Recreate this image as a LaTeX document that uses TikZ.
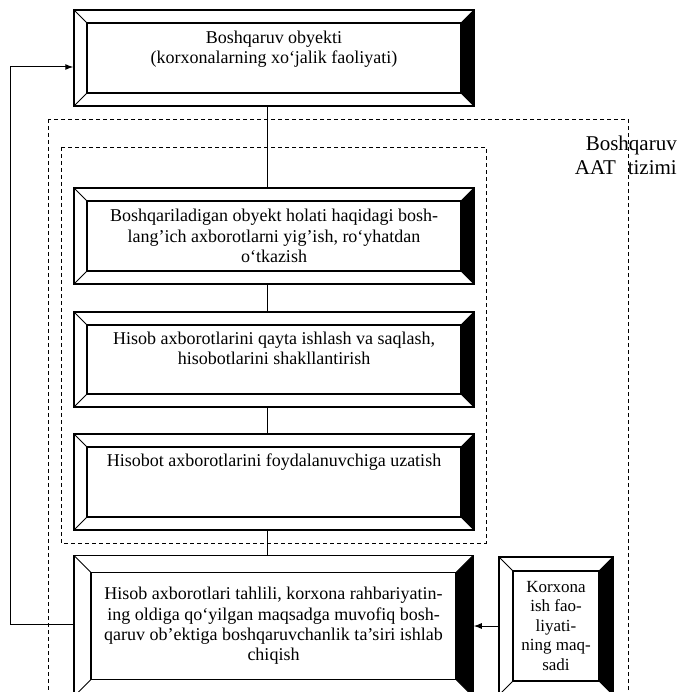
\documentclass[tikz,border=0pt]{standalone}
\usepackage{fontspec}
\setmainfont{Liberation Serif}
\usetikzlibrary{arrows.meta,calc}
\newcommand{\boxfont}{\fontsize{18}{20.3}\selectfont}
\newcommand{\goalfont}{\fontsize{17}{19.5}\selectfont}
\newcommand{\lblfont}{\fontsize{21}{24}\selectfont}

\begin{document}
\begin{tikzpicture}[x=1pt,y=-1pt,
  bevelbox/.style={draw,line width=1.5pt,inner sep=0pt,align=center,font=\boxfont,
    path picture={
      \path (path picture bounding box.south west) coordinate (p1)
            (path picture bounding box.north east) coordinate (p3);
      \fill (p3) -- (p3 |- p1) -- ([shift={(-#1,#1)}]p3 |- p1) -- ([shift={(-#1,-#1)}]p3) -- cycle;
      \draw[line width=1.5pt] ([shift={(#1,#1)}]p1) rectangle ([shift={(-#1,-#1)}]p3);
      \draw[line width=1pt] (p1) -- ++(#1,#1) (p3) -- ++(-#1,-#1)
        (p1 |- p3) -- ++(#1,-#1) (p3 |- p1) -- ++(-#1,#1);
    }},
  bevelbox/.default=13pt,
  textbox/.style 2 args={text height=#1,text depth=#2},
  sysframe/.style={dash pattern=on 4pt off 3pt,line width=0.9pt},
  link/.style={line width=1pt},
  tip/.style={-{Latex[length=8pt,width=6pt]}}]
  \useasboundingbox (0,0) rectangle (677,692);
  \clip (0,0) rectangle (677,692);

  % dashed system frames
  \draw[sysframe] (48,119) rectangle (628,720);
  \draw[sysframe] (61,147) rectangle (486,543);
  \node[font=\lblfont,align=right,anchor=north east,inner sep=0pt] (aat) at (677,136) {Boshqaruv\\AAT\hspace{12pt}tizimi};

  \node[bevelbox,textbox={33pt}{21pt},minimum width=400pt,minimum height=96pt] (obj) at (274,58) {Boshqaruv obyekti\\(korxonalarning xo‘jalik faoliyati)};
  \node[bevelbox,minimum width=400pt,minimum height=96pt] (collect) at (274,236) {Boshqariladigan obyekt holati haqidagi bosh-\\lang'ich axborotlarni yig'ish, ro‘yhatdan\\o‘tkazish};
  \node[bevelbox,textbox={33pt}{23pt},minimum width=400pt,minimum height=95pt] (process) at (274,359.5) {Hisob axborotlarini qayta ishlash va saqlash,\\hisobotlarini shakllantirish};
  \node[bevelbox,textbox={13pt}{44pt},minimum width=400pt,minimum height=96pt] (report) at (274,482) {Hisobot axborotlarini foydalanuvchiga uzatish};
  \node[bevelbox=17pt,minimum width=399pt,minimum height=141pt] (analysis) at (273.5,626) {Hisob axborotlari tahlili, korxona rahbariyatin-\\ing oldiga qo‘yilgan maqsadga muvofiq bosh-\\qaruv ob'ektiga boshqaruvchanlik ta'siri ishlab\\chiqish};
  \node[bevelbox=14pt,font=\goalfont,minimum width=114pt,minimum height=138pt] (goal) at (556,626) {Korxona\\ish fao-\\liyati-\\ning maq-\\sadi};

  \coordinate (back) at (10,67);
  \draw[link] ([xshift=-7pt]obj.south) -- ([xshift=-7pt]collect.north);
  \draw[link] ([xshift=-7pt]collect.south) -- ([xshift=-7pt]process.north);
  \draw[link] ([xshift=-7pt]process.south) -- ([xshift=-7pt]report.north);
  \draw[link] ([xshift=-7pt]report.south) -- ([xshift=-7pt]report.south |- analysis.north);
  \draw[link,tip] ([yshift=2pt]analysis.west) -| (back) -- ([yshift=-9pt]obj.west);
  \draw[link,tip] (goal.west) -- (goal.west -| analysis.east);
\end{tikzpicture}
\end{document}
